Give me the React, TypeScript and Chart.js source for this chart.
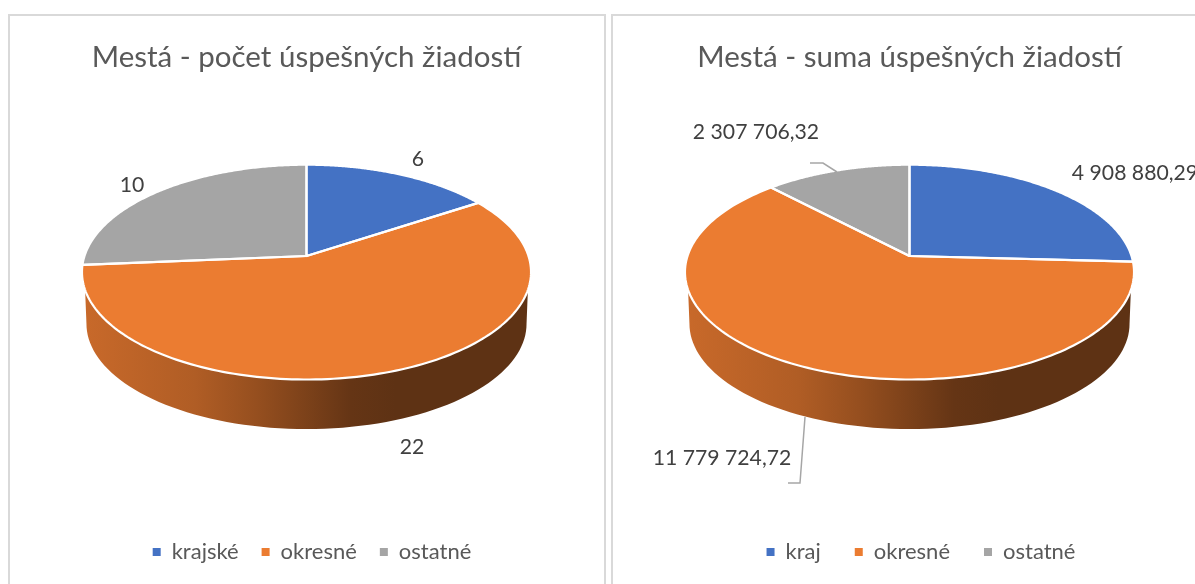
import React, { useEffect, useRef } from "react";
import { Chart, registerables } from "chart.js";

Chart.register(...registerables);

const countTitle = "Mestá - počet úspešných žiadostí";
const sumTitle = "Mestá - suma úspešných žiadostí";
const countCategories = ["krajské", "okresné", "ostatné"];
const sumCategories = ["kraj", "okresné", "ostatné"];
const countValues = [6, 22, 10];
const sumValues = [4908880.29, 11779724.72, 2307706.32];
const sliceColors = ["#4472C4", "#EB7C31", "#A5A5A5"];

const TEXT = "#404040";
const MUTED = "#595959";
const LEADER = "#A6A6A6";
const FONT = "Lato, 'Open Sans', sans-serif";

const formatCount = (v: number) => String(v);
const formatSum = (v: number) => {
  const [i, d] = v.toFixed(2).split(".");
  return i.replace(/\B(?=(\d{3})+$)/g, " ") + "," + d;
};

const rad = (d: number) => (d * Math.PI) / 180;

function shade(hex: string, f: number) {
  const n = parseInt(hex.slice(1), 16);
  const c = [(n >> 16) & 255, (n >> 8) & 255, n & 255].map((x) => Math.round(x * f));
  return `rgb(${c[0]},${c[1]},${c[2]})`;
}

const pie3d = {
  id: "pie3d",
  afterLayout(chart: any, _a: any, o: any) {
    if (chart.legend) {
      chart.legend.left += o.legendDx;
      chart.legend.right += o.legendDx;
    }
  },
  beforeDatasetDraw(chart: any, args: any, o: any) {
    const ctx = chart.ctx;
    const arcs = args.meta.data;
    const cx = arcs[0].x;
    const { cy, rx, ry, k, depth, bottomScale } = o;
    const pt = (t: number, s = 1, dy = 0) => {
      const den = 1 - k * Math.sin(t);
      return [cx + (s * rx * Math.cos(t)) / den, cy + dy + (s * ry * Math.sin(t)) / den];
    };
    const f0 = rad(18), f1 = rad(162), b0 = rad(8.6), b1 = rad(171.4);
    const bottomDy = depth;
    ctx.save();
    arcs.forEach((a: any, i: number) => {
      const s = Math.max(a.startAngle, f0), e = Math.min(a.endAngle, f1);
      if (e <= s) return;
      const color = chart.data.datasets[0].backgroundColor[i];
      const g = ctx.createLinearGradient(cx - rx, 0, cx + rx, 0);
      [[0, 0.85], [0.25, 0.75], [0.385, 0.64], [0.6, 0.43], [0.7, 0.4], [1, 0.4]].forEach(([p, f]) =>
        g.addColorStop(p, shade(color, f))
      );
      ctx.beginPath();
      const n = 80;
      for (let j = 0; j <= n; j++) {
        const [x, y] = pt(s + ((e - s) * j) / n);
        j ? ctx.lineTo(x, y) : ctx.moveTo(x, y);
      }
      const mapB = (t: number) => b0 + ((t - f0) / (f1 - f0)) * (b1 - b0);
      for (let j = n; j >= 0; j--) {
        const [x, y] = pt(mapB(s + ((e - s) * j) / n), bottomScale, bottomDy);
        ctx.lineTo(x, y);
      }
      ctx.closePath();
      ctx.fillStyle = g;
      ctx.fill();
    });
    arcs.forEach((a: any, i: number) => {
      ctx.beginPath();
      ctx.moveTo(cx, cy);
      const n = 160;
      for (let j = 0; j <= n; j++) {
        const [x, y] = pt(a.startAngle + ((a.endAngle - a.startAngle) * j) / n);
        ctx.lineTo(x, y);
      }
      ctx.closePath();
      ctx.fillStyle = chart.data.datasets[0].backgroundColor[i];
      ctx.fill();
    });
    arcs.forEach((a: any) => {
      ctx.beginPath();
      ctx.moveTo(cx, cy);
      const n = 160;
      for (let j = 0; j <= n; j++) {
        const [x, y] = pt(a.startAngle + ((a.endAngle - a.startAngle) * j) / n);
        ctx.lineTo(x, y);
      }
      ctx.closePath();
      ctx.strokeStyle = "#FFFFFF";
      ctx.lineWidth = 2.2;
      ctx.lineJoin = "round";
      ctx.stroke();
    });
    ctx.restore();
    return false;
  },
  afterDatasetsDraw(chart: any, _a: any, o: any) {
    const ctx = chart.ctx;
    ctx.save();
    ctx.strokeStyle = LEADER;
    ctx.lineWidth = 1.5;
    o.leaders.forEach((pts: number[][]) => {
      ctx.beginPath();
      pts.forEach(([x, y], i) => (i ? ctx.lineTo(x, y) : ctx.moveTo(x, y)));
      ctx.stroke();
    });
    ctx.fillStyle = TEXT;
    ctx.font = `${o.labelSize}px ${FONT}`;
    ctx.textAlign = "center";
    ctx.textBaseline = "middle";
    const values = chart.data.datasets[0].data;
    values.forEach((v: number, i: number) => {
      const [x, y] = o.labelPos[i];
      ctx.fillText(o.format(v), x, y);
    });
    ctx.restore();
  },
};

type Spec = {
  title: string;
  categories: string[];
  values: number[];
  format: (v: number) => string;
  labelPos: number[][];
  leaders: number[][][];
  legendPadding: number;
  legendDx: number;
};

function makeConfig(s: Spec): any {
  return {
    type: "pie",
    data: {
      labels: s.categories,
      datasets: [{ data: s.values, backgroundColor: sliceColors, borderWidth: 0 }],
    },
    plugins: [pie3d],
    options: {
      responsive: false,
      animation: false,
      events: [],
      layout: { padding: { bottom: 11 } },
      plugins: {
        tooltip: { enabled: false },
        title: {
          display: true,
          text: s.title,
          color: MUTED,
          font: { family: FONT, size: 29.5, weight: "400" },
          padding: { top: 24, bottom: 10 },
        },
        legend: {
          display: true,
          position: "bottom",
          labels: {
            boxWidth: 8,
            boxHeight: 8,
            padding: s.legendPadding,
            color: MUTED,
            font: { family: FONT, size: 22 },
          },
        },
        pie3d: {
          cy: 240,
          rx: 222,
          ry: 105,
          k: 0.15,
          depth: 52,
          bottomScale: 0.98,
          labelSize: 21.2,
          legendDx: s.legendDx,
          format: s.format,
          labelPos: s.labelPos,
          leaders: s.leaders,
        },
      },
    },
  };
}

const specA: Spec = {
  title: countTitle,
  categories: countCategories,
  values: countValues,
  format: formatCount,
  labelPos: [[408, 143], [402, 431], [122, 169]],
  leaders: [],
  legendPadding: 23,
  legendDx: 5.5,
};

const specB: Spec = {
  title: sumTitle,
  categories: sumCategories,
  values: sumValues,
  format: formatSum,
  labelPos: [[522, 157], [109, 442], [143, 116]],
  leaders: [
    [[197, 147], [210, 147], [224, 156]],
    [[175, 467], [187, 467], [192, 401]],
  ],
  legendPadding: 34,
  legendDx: 11.5,
};

function Pie({ spec, left, width }: { spec: Spec; left: number; width: number }) {
  const ref = useRef<HTMLCanvasElement>(null);
  useEffect(() => {
    const chart = new Chart(ref.current as HTMLCanvasElement, makeConfig(spec));
    return () => chart.destroy();
  }, [spec]);
  return (
    <div
      style={{
        position: "absolute",
        left,
        top: 14,
        width,
        height: 600,
        border: "2px solid #D9D9D9",
        boxSizing: "content-box",
        background: "#fff",
      }}
    >
      <canvas ref={ref} width={593} height={568} style={{ display: "block" }} />
    </div>
  );
}

export default function App() {
  return (
    <div style={{ position: "fixed", left: 0, top: 0, width: 1195, height: 584, overflow: "hidden", background: "#fff" }}>
      <Pie spec={specA} left={8} width={594} />
      <Pie spec={specB} left={611} width={594} />
    </div>
  );
}
